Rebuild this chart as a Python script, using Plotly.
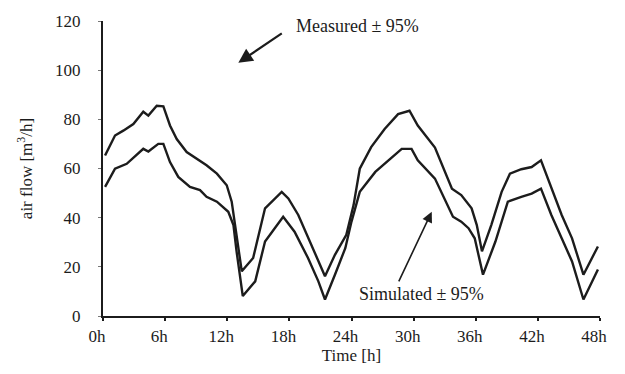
import plotly.graph_objects as go

# Upper curve (hours, m3/h)
t_upper = [0.2, 1.16, 1.96, 2.93, 3.89, 4.38, 5.19, 5.83, 6.47, 7.12, 8.08, 9.05, 10.0, 11.0, 11.95,
           12.43, 12.75, 13.4, 14.5, 15.65, 17.26, 17.9, 18.86, 19.83, 20.8, 21.44, 22.4, 23.5, 24.2,
           24.8, 25.9, 27.2, 28.5, 29.6, 30.4, 32.06, 33.7, 34.6, 35.6, 36.1, 36.6, 37.5, 38.5, 39.3,
           40.4, 41.4, 42.3, 43.3, 44.3, 45.3, 46.4, 47.8]
upper = [65.3, 73.4, 75.4, 78.1, 83.1, 81.5, 85.5, 85.3, 77.5, 72.0, 66.7, 64.0, 61.3, 57.9, 53.2,
         46.5, 37.0, 18.2, 23.6, 43.8, 50.5, 47.8, 41.1, 31.6, 22.2, 16.2, 24.9, 33.0, 45.1,
         59.9, 68.7, 76.1, 82.1, 83.5, 77.5, 68.5, 51.8, 49.2, 43.8, 37.0, 26.3, 37.0, 50.5, 57.9,
         59.7, 60.6, 63.3, 51.8, 41.1, 31.6, 16.8, 28.3]

# Lower curve
t_lower = [0.2, 1.16, 2.29, 3.89, 4.38, 5.34, 5.83, 6.47, 7.27, 8.4, 9.37, 10.0, 11.0, 12.1, 12.6,
           12.9, 13.5, 14.7, 15.65, 17.4, 18.5, 19.8, 20.8, 21.44, 22.4, 23.4, 24.0, 24.8, 26.3,
           27.55, 28.85, 29.8, 30.4, 32.06, 33.8, 34.6, 35.3, 35.9, 36.7, 37.9, 39.1, 40.4, 41.4,
           42.3, 43.3, 44.3, 45.3, 46.4, 47.8]
lower = [52.5, 59.9, 61.9, 68.0, 66.9, 70.0, 70.0, 62.6, 56.6, 52.5, 51.2, 48.5, 46.5, 42.4, 37.0,
         26.3, 8.1, 14.1, 30.3, 40.4, 34.3, 23.6, 14.1, 6.7, 16.8, 27.6, 38.4, 50.5, 58.6,
         63.3, 68.0, 68.0, 63.3, 55.9, 40.4, 38.4, 35.7, 31.6, 16.8, 30.3, 46.5, 48.5, 49.8,
         51.8, 41.1, 31.6, 22.2, 6.7, 18.9]

tick_vals = [0, 6, 12, 18, 24, 30, 36, 42, 48]
tick_text = ["0h", "6h", "12h", "18h", "24h", "30h", "36h", "42h", "48h"]
y_ticks = [0, 20, 40, 60, 80, 100, 120]

FONT = "Liberation Serif, Times New Roman, serif"
INK = "#1c1c1c"

fig = go.Figure()
fig.add_trace(go.Scatter(x=t_upper, y=upper, mode="lines",
                         line=dict(color=INK, width=2.4), showlegend=False))
fig.add_trace(go.Scatter(x=t_lower, y=lower, mode="lines",
                         line=dict(color=INK, width=2.4), showlegend=False))

# Annotations
fig.add_annotation(x=13.07, y=103, ax=17.41, ay=115.4, xref="x", yref="y", axref="x", ayref="y",
                   text="", showarrow=True, arrowhead=2, arrowsize=1.3, arrowwidth=2.2, arrowcolor=INK)
fig.add_annotation(x=24.6, y=118.1, xref="x", yref="y", text="Measured ± 95%", showarrow=False,
                   font=dict(family=FONT, size=18, color=INK))
fig.add_annotation(x=31.75, y=42.4, ax=28.5, ay=13.5, xref="x", yref="y", axref="x", ayref="y",
                   text="", showarrow=True, arrowhead=2, arrowsize=1.3, arrowwidth=1.6, arrowcolor=INK)
fig.add_annotation(x=30.8, y=8.9, xref="x", yref="y", text="Simulated ± 95%", showarrow=False,
                   font=dict(family=FONT, size=18, color=INK))

fig.update_layout(
    width=625, height=374,
    margin=dict(l=103, r=25, t=17, b=58),
    paper_bgcolor="white", plot_bgcolor="white",
    font=dict(family=FONT, size=17, color=INK),
    xaxis=dict(range=[0, 48], tickvals=tick_vals, ticktext=tick_text,
               showgrid=False, zeroline=False, showline=True, linecolor=INK, linewidth=1.6,
               ticks="outside", ticklen=3, tickwidth=1.5, tickcolor=INK,
               tickfont=dict(family=FONT, size=17),
               ticklabelshift=-6, ticklabelstandoff=1,
               title=dict(text="Time [h]", standoff=1, font=dict(family=FONT, size=17))),
    yaxis=dict(range=[0, 120], tickvals=y_ticks,
               showgrid=False, zeroline=False, showline=True, linecolor=INK, linewidth=2.4,
               ticks="outside", ticklen=3, tickwidth=1.2, tickcolor="#777",
               tickfont=dict(family=FONT, size=17),
               ticklabelstandoff=14,
               title=dict(text="air flow [m<sup>3</sup>/h]", standoff=18, font=dict(family=FONT, size=17))),
)

fig.write_html("out.html")
